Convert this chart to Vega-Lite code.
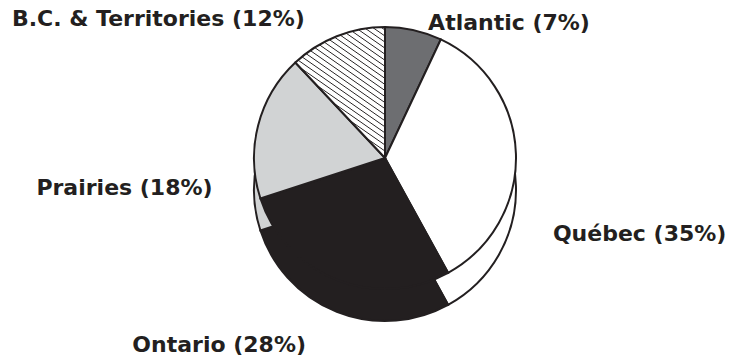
{
  "$schema": "https://vega.github.io/schema/vega-lite/v6.json",
  "autosize": "none",
  "width": 704,
  "height": 316,
  "padding": {"left": 33, "top": 0, "right": 0, "bottom": 44},
  "background": "#ffffff",
  "config": {"view": {"stroke": null}},
  "data": {
    "values": [
      {"k": 1, "region": "Atlantic", "share": 7, "label": "Atlantic (7%)"},
      {"k": 2, "region": "Québec", "share": 35, "label": "Québec (35%)"},
      {"k": 3, "region": "Ontario", "share": 28, "label": "Ontario (28%)"},
      {"k": 4, "region": "Prairies", "share": 18, "label": "Prairies (18%)"},
      {"k": 5, "region": "B.C. & Territories", "share": 12, "label": "B.C. & Territories (12%)"}
    ]
  },
  "encoding": {
    "theta": {"field": "share", "type": "quantitative", "stack": true},
    "order": {"field": "k", "type": "quantitative"}
  },
  "layer": [
    {
      "mark": {"type": "arc", "radius": 131, "yOffset": 32, "stroke": "#231f20", "strokeWidth": 2},
      "encoding": {
        "fill": {
          "field": "region", "type": "nominal", "legend": null,
          "scale": {"domain": ["Atlantic", "Québec", "Ontario", "Prairies", "B.C. & Territories"],
                    "range": ["#6d6e71", "#ffffff", "#231f20", "#d1d3d4", "#ffffff"]}
        }
      }
    },
    {
      "mark": {"type": "arc", "radius": 131, "stroke": "#231f20", "strokeWidth": 2},
      "encoding": {
        "fill": {
          "field": "region", "type": "nominal", "legend": null,
          "scale": {"domain": ["Atlantic", "Québec", "Ontario", "Prairies", "B.C. & Territories"],
                    "range": ["#6d6e71", "#ffffff", "#231f20", "#d1d3d4", "#ffffff"]},
          "condition": {
            "test": "datum.k === 5",
            "value": {
              "gradient": "linear", "x1": 0, "y1": 1, "x2": 0.575, "y2": -0.204,
              "stops": [
                {"offset": 0, "color": "#ffffff"},
                {"offset": 0.01, "color": "#ffffff"}, {"offset": 0.015, "color": "#231f20"}, {"offset": 0.02, "color": "#ffffff"},
                {"offset": 0.04125, "color": "#ffffff"}, {"offset": 0.04625, "color": "#231f20"}, {"offset": 0.05125, "color": "#ffffff"},
                {"offset": 0.0725, "color": "#ffffff"}, {"offset": 0.0775, "color": "#231f20"}, {"offset": 0.0825, "color": "#ffffff"},
                {"offset": 0.10375, "color": "#ffffff"}, {"offset": 0.10875, "color": "#231f20"}, {"offset": 0.11375, "color": "#ffffff"},
                {"offset": 0.135, "color": "#ffffff"}, {"offset": 0.14, "color": "#231f20"}, {"offset": 0.145, "color": "#ffffff"},
                {"offset": 0.16625, "color": "#ffffff"}, {"offset": 0.17125, "color": "#231f20"}, {"offset": 0.17625, "color": "#ffffff"},
                {"offset": 0.1975, "color": "#ffffff"}, {"offset": 0.2025, "color": "#231f20"}, {"offset": 0.2075, "color": "#ffffff"},
                {"offset": 0.22875, "color": "#ffffff"}, {"offset": 0.23375, "color": "#231f20"}, {"offset": 0.23875, "color": "#ffffff"},
                {"offset": 0.26, "color": "#ffffff"}, {"offset": 0.265, "color": "#231f20"}, {"offset": 0.27, "color": "#ffffff"},
                {"offset": 0.29125, "color": "#ffffff"}, {"offset": 0.29625, "color": "#231f20"}, {"offset": 0.30125, "color": "#ffffff"},
                {"offset": 0.3225, "color": "#ffffff"}, {"offset": 0.3275, "color": "#231f20"}, {"offset": 0.3325, "color": "#ffffff"},
                {"offset": 0.35375, "color": "#ffffff"}, {"offset": 0.35875, "color": "#231f20"}, {"offset": 0.36375, "color": "#ffffff"},
                {"offset": 0.385, "color": "#ffffff"}, {"offset": 0.39, "color": "#231f20"}, {"offset": 0.395, "color": "#ffffff"},
                {"offset": 0.41625, "color": "#ffffff"}, {"offset": 0.42125, "color": "#231f20"}, {"offset": 0.42625, "color": "#ffffff"},
                {"offset": 0.4475, "color": "#ffffff"}, {"offset": 0.4525, "color": "#231f20"}, {"offset": 0.4575, "color": "#ffffff"},
                {"offset": 0.47875, "color": "#ffffff"}, {"offset": 0.48375, "color": "#231f20"}, {"offset": 0.48875, "color": "#ffffff"},
                {"offset": 0.51, "color": "#ffffff"}, {"offset": 0.515, "color": "#231f20"}, {"offset": 0.52, "color": "#ffffff"},
                {"offset": 0.54125, "color": "#ffffff"}, {"offset": 0.54625, "color": "#231f20"}, {"offset": 0.55125, "color": "#ffffff"},
                {"offset": 0.5725, "color": "#ffffff"}, {"offset": 0.5775, "color": "#231f20"}, {"offset": 0.5825, "color": "#ffffff"},
                {"offset": 0.60375, "color": "#ffffff"}, {"offset": 0.60875, "color": "#231f20"}, {"offset": 0.61375, "color": "#ffffff"},
                {"offset": 0.635, "color": "#ffffff"}, {"offset": 0.64, "color": "#231f20"}, {"offset": 0.645, "color": "#ffffff"},
                {"offset": 0.66625, "color": "#ffffff"}, {"offset": 0.67125, "color": "#231f20"}, {"offset": 0.67625, "color": "#ffffff"},
                {"offset": 0.6975, "color": "#ffffff"}, {"offset": 0.7025, "color": "#231f20"}, {"offset": 0.7075, "color": "#ffffff"},
                {"offset": 0.72875, "color": "#ffffff"}, {"offset": 0.73375, "color": "#231f20"}, {"offset": 0.73875, "color": "#ffffff"},
                {"offset": 0.76, "color": "#ffffff"}, {"offset": 0.765, "color": "#231f20"}, {"offset": 0.77, "color": "#ffffff"},
                {"offset": 0.79125, "color": "#ffffff"}, {"offset": 0.79625, "color": "#231f20"}, {"offset": 0.80125, "color": "#ffffff"},
                {"offset": 0.8225, "color": "#ffffff"}, {"offset": 0.8275, "color": "#231f20"}, {"offset": 0.8325, "color": "#ffffff"},
                {"offset": 0.85375, "color": "#ffffff"}, {"offset": 0.85875, "color": "#231f20"}, {"offset": 0.86375, "color": "#ffffff"},
                {"offset": 0.885, "color": "#ffffff"}, {"offset": 0.89, "color": "#231f20"}, {"offset": 0.895, "color": "#ffffff"},
                {"offset": 0.91625, "color": "#ffffff"}, {"offset": 0.92125, "color": "#231f20"}, {"offset": 0.92625, "color": "#ffffff"},
                {"offset": 0.9475, "color": "#ffffff"}, {"offset": 0.9525, "color": "#231f20"}, {"offset": 0.9575, "color": "#ffffff"},
                {"offset": 0.97875, "color": "#ffffff"}, {"offset": 0.98375, "color": "#231f20"}, {"offset": 0.98875, "color": "#ffffff"},
                {"offset": 1, "color": "#ffffff"}
              ]
            }
          }
        }
      }
    },
    {
      "mark": {"type": "text", "radius": 138, "align": "left", "baseline": "middle", "dx": 13, "font": "DejaVu Sans", "fontWeight": "bold", "fontSize": 22, "fill": "#231f20"},
      "encoding": {"text": {"condition": {"test": "datum.k === 1", "field": "label", "type": "nominal"}, "value": ""}}
    },
    {
      "mark": {"type": "text", "radius": 168, "align": "left", "baseline": "middle", "dy": 81, "font": "DejaVu Sans", "fontWeight": "bold", "fontSize": 22, "fill": "#231f20"},
      "encoding": {"text": {"condition": {"test": "datum.k === 2", "field": "label", "type": "nominal"}, "value": ""}}
    },
    {
      "mark": {"type": "text", "radius": 201, "align": "right", "baseline": "middle", "dx": -5, "font": "DejaVu Sans", "fontWeight": "bold", "fontSize": 22, "fill": "#231f20"},
      "encoding": {"text": {"condition": {"test": "datum.k === 3", "field": "label", "type": "nominal"}, "value": ""}}
    },
    {
      "mark": {"type": "text", "radius": 178, "align": "right", "baseline": "middle", "dy": 74, "font": "DejaVu Sans", "fontWeight": "bold", "fontSize": 22, "fill": "#231f20"},
      "encoding": {"text": {"condition": {"test": "datum.k === 4", "field": "label", "type": "nominal"}, "value": ""}}
    },
    {
      "mark": {"type": "text", "radius": 150, "align": "right", "baseline": "middle", "dx": -25, "font": "DejaVu Sans", "fontWeight": "bold", "fontSize": 22, "fill": "#231f20"},
      "encoding": {"text": {"condition": {"test": "datum.k === 5", "field": "label", "type": "nominal"}, "value": ""}}
    }
  ]
}
